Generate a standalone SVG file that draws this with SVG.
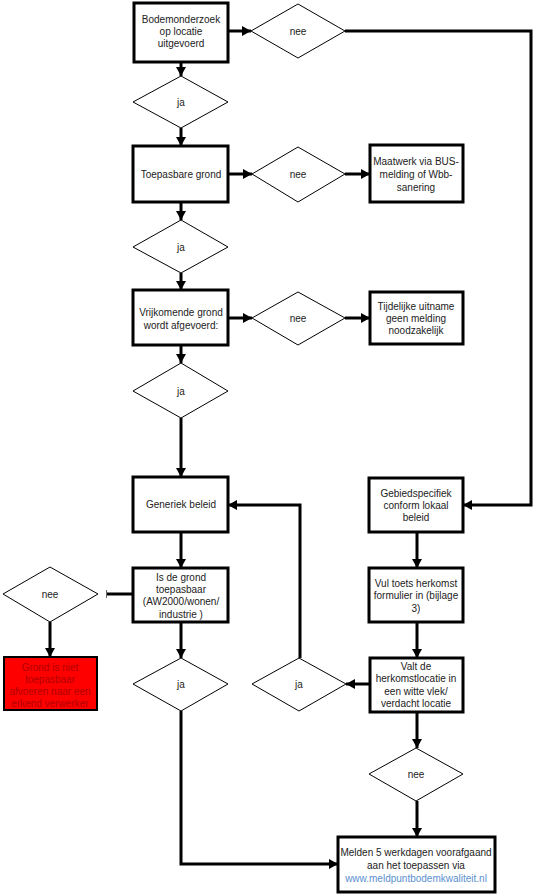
<svg xmlns="http://www.w3.org/2000/svg" width="540" height="896" viewBox="0 0 540 896">
<style>
.box{fill:#fff;stroke:#000;stroke-width:3}
.dia{fill:#fff;stroke:#000;stroke-width:1}
.red{fill:#ff0000;stroke:#000;stroke-width:2}
.t{font-family:"Liberation Sans",Arial,sans-serif;font-size:10px;fill:#222;text-anchor:middle}
.tr{font-family:"Liberation Sans",Arial,sans-serif;font-size:10px;fill:#b00000;text-anchor:middle}
.lnk{fill:#5b8fd0}
.c{fill:none;stroke:#000;stroke-width:3}
</style>
<defs>
<marker id="ah" markerUnits="userSpaceOnUse" markerWidth="10" markerHeight="10" refX="9" refY="5" orient="auto">
<path d="M0,0 L9,5 L0,10 Z" fill="#000"/>
</marker>
</defs>
<rect width="540" height="896" fill="#fff"/>
<g id="connectors">
<path class="c" d="M228,31 H251" marker-end="url(#ah)"/>
<path class="c" d="M345,31 H531 V505 H463" marker-end="url(#ah)"/>
<path class="c" d="M181,62 V76" marker-end="url(#ah)"/>
<path class="c" d="M181,128 V146" marker-end="url(#ah)"/>
<path class="c" d="M228,174 H252" marker-end="url(#ah)"/>
<path class="c" d="M345,174 H370" marker-end="url(#ah)"/>
<path class="c" d="M181,202 V220" marker-end="url(#ah)"/>
<path class="c" d="M181,273 V290" marker-end="url(#ah)"/>
<path class="c" d="M228,318 H252" marker-end="url(#ah)"/>
<path class="c" d="M345,318 H370" marker-end="url(#ah)"/>
<path class="c" d="M181,345 V363" marker-end="url(#ah)"/>
<path class="c" d="M181,418 V477" marker-end="url(#ah)"/>
<path class="c" d="M181,532 V568" marker-end="url(#ah)"/>
<path class="c" d="M133,594 H107"/>
<path d="M106.5,590 V598" stroke="#666" stroke-width="1"/>
<path class="c" d="M50,622 V657" marker-end="url(#ah)"/>
<path class="c" d="M417,532 V568" marker-end="url(#ah)"/>
<path class="c" d="M181,622 V658" marker-end="url(#ah)"/>
<path class="c" d="M181,711 V864 H338" marker-end="url(#ah)"/>
<path class="c" d="M417,622 V658" marker-end="url(#ah)"/>
<path class="c" d="M370,684 H346" marker-end="url(#ah)"/>
<path class="c" d="M300,658 V505 H228" marker-end="url(#ah)"/>
<path class="c" d="M417,712 V748" marker-end="url(#ah)"/>
<path class="c" d="M417,801 V837" marker-end="url(#ah)"/>
</g>
<g id="n-bodemonderzoek">
<rect class="box" x="134" y="3" width="94" height="59"/>
<text class="t" x="181" y="22.5">Bodemonderzoek</text>
<text class="t" x="181" y="35">op locatie</text>
<text class="t" x="181" y="47">uitgevoerd</text>
</g>
<g id="n-nee1">
<polygon class="dia" points="251,31 298,4 345,31 298,58"/>
<text class="t" x="298" y="34.5">nee</text>
</g>
<g id="n-ja1">
<polygon class="dia" points="133,102 181,76 228,102 181,128"/>
<text class="t" x="181" y="105.5">ja</text>
</g>
<g id="n-toepasbare">
<rect class="box" x="133" y="146" width="95" height="56"/>
<text class="t" x="181" y="177.5">Toepasbare grond</text>
</g>
<g id="n-nee2">
<polygon class="dia" points="252,174 298,147 345,174 298,202"/>
<text class="t" x="298" y="177.5">nee</text>
</g>
<g id="n-maatwerk">
<rect class="box" x="370" y="145" width="93" height="57"/>
<text class="t" x="416" y="164.5">Maatwerk via BUS-</text>
<text class="t" x="416" y="177.5">melding  of Wbb-</text>
<text class="t" x="416" y="191">sanering</text>
</g>
<g id="n-ja2">
<polygon class="dia" points="133,247 181,220 228,247 181,273"/>
<text class="t" x="181" y="250.5">ja</text>
</g>
<g id="n-vrijkomende">
<rect class="box" x="133" y="290" width="95" height="55"/>
<text class="t" x="181" y="316">Vrijkomende grond</text>
<text class="t" x="181" y="329">wordt afgevoerd:</text>
</g>
<g id="n-nee3">
<polygon class="dia" points="252,318 298,292 345,318 298,345"/>
<text class="t" x="298" y="321.5">nee</text>
</g>
<g id="n-tijdelijke">
<rect class="box" x="370" y="292" width="93" height="52"/>
<text class="t" x="416" y="309.5">Tijdelijke uitname</text>
<text class="t" x="416" y="321.5">geen melding</text>
<text class="t" x="416" y="333.5">noodzakelijk</text>
</g>
<g id="n-ja3">
<polygon class="dia" points="133,391 181,363 228,391 181,418"/>
<text class="t" x="181" y="394.5">ja</text>
</g>
<g id="n-generiek">
<rect class="box" x="133" y="477" width="95" height="55"/>
<text class="t" x="181" y="508">Generiek beleid</text>
</g>
<g id="n-gebiedspecifiek">
<rect class="box" x="369" y="478" width="94" height="54"/>
<text class="t" x="416" y="496.5">Gebiedspecifiek</text>
<text class="t" x="416" y="508.5">conform lokaal</text>
<text class="t" x="416" y="520.5">beleid</text>
</g>
<g id="n-isdegrond">
<rect class="box" x="133" y="568" width="95" height="54"/>
<text class="t" x="181" y="580.5">Is de grond</text>
<text class="t" x="181" y="592.5">toepasbaar</text>
<text class="t" x="181" y="605">(AW2000/wonen/</text>
<text class="t" x="181" y="617.5">industrie )</text>
</g>
<g id="n-vultoets">
<rect class="box" x="369" y="568" width="94" height="54"/>
<text class="t" x="416" y="586.5">Vul toets herkomst</text>
<text class="t" x="416" y="599">formulier in (bijlage</text>
<text class="t" x="416" y="611.5">3)</text>
</g>
<g id="n-nee-left">
<polygon class="dia" points="3,594 50,567 98,594 50,622"/>
<text class="t" x="50" y="597.5">nee</text>
</g>
<g id="n-niet-toepasbaar">
<rect class="red" x="4" y="657" width="93" height="53"/>
<text class="tr" x="50" y="670.5">Grond is niet</text>
<text class="tr" x="50" y="682.5">toepasbaar</text>
<text class="tr" x="50" y="694.5">afvoeren naar een</text>
<text class="tr" x="50" y="706.5">erkend verwerker</text>
</g>
<g id="n-ja4">
<polygon class="dia" points="133,684 181,658 228,684 181,711"/>
<text class="t" x="181" y="687.5">ja</text>
</g>
<g id="n-ja5">
<polygon class="dia" points="252,684 299,658 346,684 299,711"/>
<text class="t" x="299" y="687.5">ja</text>
</g>
<g id="n-valtde">
<rect class="box" x="370" y="658" width="93" height="54"/>
<text class="t" x="416" y="669.5">Valt de</text>
<text class="t" x="416" y="682">herkomstlocatie in</text>
<text class="t" x="416" y="694.5">een witte vlek/</text>
<text class="t" x="416" y="706.5">verdacht locatie</text>
</g>
<g id="n-nee6">
<polygon class="dia" points="369,774 416,748 463,774 416,801"/>
<text class="t" x="416" y="777.5">nee</text>
</g>
<g id="n-melden">
<rect class="box" x="338" y="837" width="157" height="55"/>
<text class="t" x="416" y="855.5">Melden 5 werkdagen voorafgaand</text>
<text class="t" x="416" y="868.5">aan het toepassen via</text>
<text class="t lnk" x="416" y="881.5">www.meldpuntbodemkwaliteit.nl</text>
</g>
</svg>
